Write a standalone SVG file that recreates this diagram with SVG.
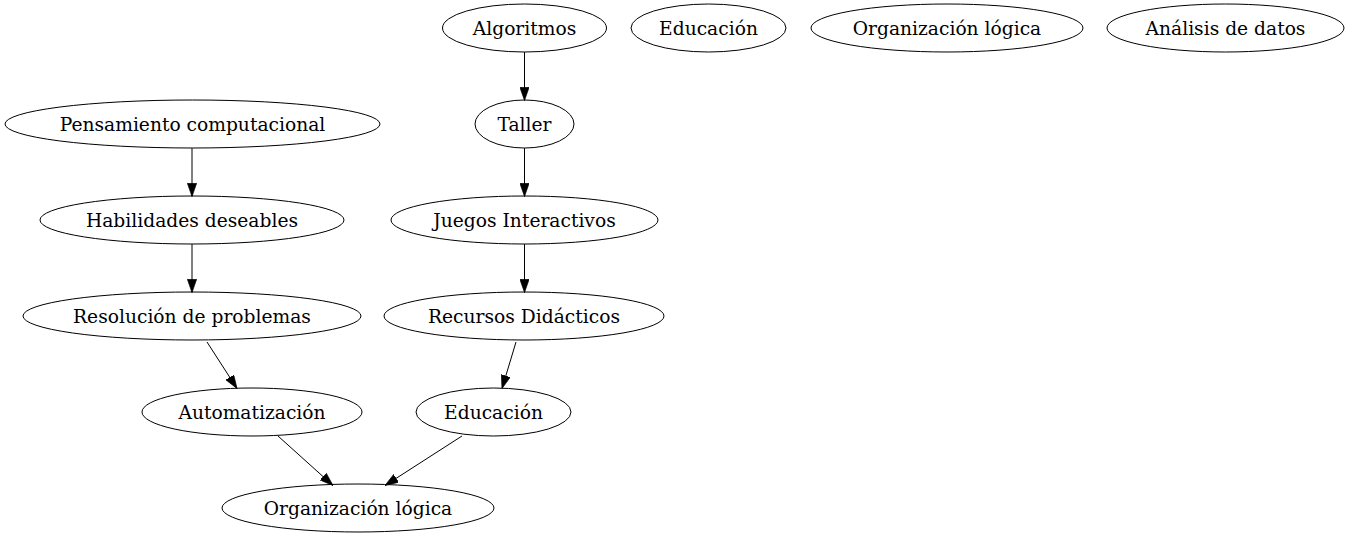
<svg xmlns="http://www.w3.org/2000/svg" width="1350" height="539" viewBox="0 0 1350 539">
<style>
.n ellipse{fill:none;stroke:#000;stroke-width:1}
.n text{font-family:"DejaVu Serif",serif;font-size:18.67px;text-anchor:middle;fill:#000}
.e line{stroke:#000;stroke-width:1;marker-end:url(#ah)}
</style>
<defs>
<marker id="ah" markerUnits="userSpaceOnUse" markerWidth="13.3" markerHeight="9.3" viewBox="0 0 10 7" refX="10" refY="3.5" orient="auto">
<path d="M0,0 L10,3.5 L0,7 z" fill="#000" stroke="#000" stroke-width="0.5"/>
</marker>
</defs>
<rect width="1350" height="539" fill="#fff"/>
<g class="e" id="edges">
<line x1="524.5" y1="52" x2="524.5" y2="100.5"/>
<line x1="192" y1="148" x2="192" y2="196.5"/>
<line x1="524.5" y1="148" x2="524.5" y2="196.5"/>
<line x1="192" y1="244" x2="192" y2="292.5"/>
<line x1="524.5" y1="244" x2="524.5" y2="292.5"/>
<line x1="207" y1="342" x2="237" y2="388.5"/>
<line x1="516" y1="342" x2="502" y2="388.5"/>
<line x1="278" y1="436" x2="333" y2="485.5"/>
<line x1="462" y1="436" x2="385" y2="485.5"/>
</g>
<g class="n" id="algoritmos"><ellipse cx="524.5" cy="28" rx="82" ry="24"/><text x="524.5" y="34.5">Algoritmos</text></g>
<g class="n" id="educacion_top"><ellipse cx="708.5" cy="28" rx="77.5" ry="24"/><text x="708.5" y="34.5">Educación</text></g>
<g class="n" id="organizacion_top"><ellipse cx="947" cy="28" rx="136" ry="24"/><text x="947" y="34.5">Organización lógica</text></g>
<g class="n" id="analisis"><ellipse cx="1225.5" cy="28" rx="118.5" ry="24"/><text x="1225.5" y="34.5">Análisis de datos</text></g>
<g class="n" id="pensamiento"><ellipse cx="192.5" cy="124" rx="187.5" ry="24"/><text x="192.5" y="130.5">Pensamiento computacional</text></g>
<g class="n" id="taller"><ellipse cx="524.5" cy="124" rx="49.5" ry="24"/><text x="524.5" y="130.5">Taller</text></g>
<g class="n" id="habilidades"><ellipse cx="192" cy="220" rx="152" ry="24"/><text x="192" y="226.5">Habilidades deseables</text></g>
<g class="n" id="juegos"><ellipse cx="524.5" cy="220" rx="133.5" ry="24"/><text x="524.5" y="226.5">Juegos Interactivos</text></g>
<g class="n" id="resolucion"><ellipse cx="192" cy="316" rx="169" ry="24"/><text x="192" y="322.5">Resolución de problemas</text></g>
<g class="n" id="recursos"><ellipse cx="524" cy="316" rx="140" ry="24"/><text x="524" y="322.5">Recursos Didácticos</text></g>
<g class="n" id="automatizacion"><ellipse cx="252" cy="412" rx="110" ry="24"/><text x="252" y="418.5">Automatización</text></g>
<g class="n" id="educacion"><ellipse cx="493.5" cy="412" rx="77.5" ry="24"/><text x="493.5" y="418.5">Educación</text></g>
<g class="n" id="organizacion"><ellipse cx="358" cy="508" rx="136" ry="24"/><text x="358" y="514.5">Organización lógica</text></g>
</svg>
